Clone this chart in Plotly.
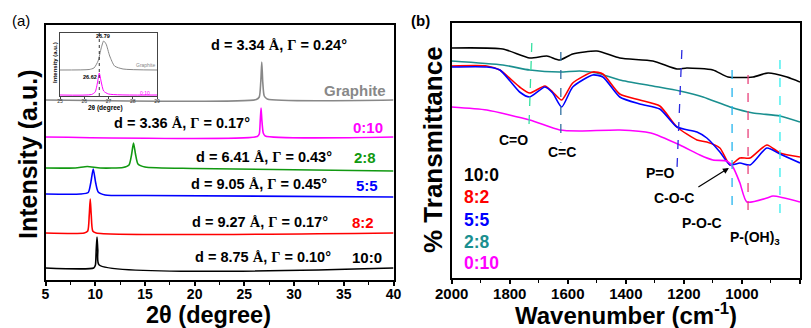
import plotly.graph_objects as go

W, H = 811, 328
FONT = "Liberation Sans, Arial, sans-serif"

# ---------------- Panel (a): XRD ----------------
graphite_x = [5, 26.2, 26.5, 26.65, 26.75, 26.85, 27.0, 27.3, 40]
graphite_y = [180, 180.5, 183, 198, 218, 198, 184, 181, 180]
s010_x = [5, 26.3, 26.5, 26.6, 26.68, 26.76, 26.9, 27.1, 40]
s010_y = [143, 143.5, 146, 160, 172, 160, 147, 144, 143]
s28_x = [5, 8, 9.2, 10.5, 12.8, 13.4, 13.65, 13.85, 14.05, 14.3, 15, 20, 40]
s28_y = [112, 112, 113.5, 112, 112.5, 115, 125, 137, 126, 116, 113, 111.5, 109]
s55_x = [5, 8.5, 9.3, 9.55, 9.8, 10.05, 10.3, 11, 15, 40]
s55_y = [86, 86, 87.5, 97, 111, 97, 88, 85, 84.5, 83]
s82_x = [5, 8.9, 9.25, 9.4, 9.5, 9.6, 9.75, 10.1, 40]
s82_y = [47, 47, 49, 65, 81, 65, 49, 47, 47]
s100_x = [5, 9.85, 10.02, 10.1, 10.18, 10.26, 10.4, 40]
s100_y = [12, 12, 15, 30, 43, 30, 15, 12]

# inset (zoom of graphite and 0:10)
ins_g_x = [25, 26.2, 26.4, 26.57, 26.7, 26.8, 26.9, 27.05, 27.25, 27.6, 29]
ins_g_y = [26, 26.5, 28, 35, 48, 55, 52, 40, 30, 27, 26]
ins_m_x = [25, 26.3, 26.45, 26.55, 26.62, 26.7, 26.8, 27.0, 29]
ins_m_y = [1, 1.5, 4, 14, 23, 14, 5, 2, 1]

# ---------------- Panel (b): FTIR ----------------
ir100_x = [2000, 1824, 1731, 1672, 1628, 1583, 1500, 1421, 1307, 1224, 1190, 1100, 1048, 962, 910, 845, 800]
ir100_y = [229, 228, 219, 221, 217, 223, 226, 219, 216, 208, 209, 207, 200, 200, 204, 200, 195]
ir28_x = [2000, 1824, 1731, 1628, 1559, 1500, 1421, 1307, 1214, 1134, 1041, 962, 869, 800]
ir28_y = [216, 212, 207, 205, 206, 204, 197, 191, 186, 180, 170, 164, 161, 155]
ir_rb_x = [2000, 1879, 1834, 1766, 1731, 1679, 1652, 1621, 1583, 1514, 1479, 1421, 1352, 1283,
           1224, 1155, 1121, 1076, 1041, 1007, 972, 914, 869, 800]
ir82_y = [211, 211, 207, 190, 184, 191, 185, 177, 194, 205, 203, 183, 177, 171,
          150, 137, 135, 129, 112, 119, 119, 132, 124, 120]
ir55_y = [210, 210, 207, 185, 180, 190, 184, 170, 190, 202, 200, 180, 173, 168,
          150, 145, 139, 125, 112, 114, 112, 129, 123, 114]
ir010_x = [2000, 1879, 1731, 1628, 1559, 1421, 1314, 1214, 1145, 1100, 1052, 1031, 1007, 983, 914, 893, 800]
ir010_y = [170, 167, 157, 147, 146, 147, 144, 132, 122, 117, 116, 110, 94, 75, 79, 81, 75]

# band markers: wavenumber at top/bottom, y top/bottom, colour
bands_w_top = [1724, 1624, 1207, 1034, 979, 869]
bands_w_bot = [1734, 1624, 1224, 1034, 979, 869]
bands_y_top = [234, 225, 227, 207, 202, 217]
bands_y_bot = [149, 134, 107, 64, 67, 57]
bands_col = ["#33e0a0", "#2f6f9f", "#2a2ae0", "#22b4ee", "#e8407a", "#33eeee"]

fig = go.Figure()

def sc(x, y, color, xa="x", ya="y", w=1.6):
    fig.add_trace(go.Scatter(x=x, y=y, mode="lines", xaxis=xa, yaxis=ya,
                             line=dict(color=color, width=w, shape="spline", smoothing=0.6),
                             showlegend=False, hoverinfo="skip"))

sc(graphite_x, graphite_y, "#888888")
sc(s010_x, s010_y, "#ff00ff")
sc(s28_x, s28_y, "#119911")
sc(s55_x, s55_y, "#0000ff")
sc(s82_x, s82_y, "#ff0000")
sc(s100_x, s100_y, "#000000")

sc(ins_g_x, ins_g_y, "#888888", "x3", "y3", 1)
sc(ins_m_x, ins_m_y, "#ff00ff", "x3", "y3", 1)
fig.add_trace(go.Scatter(x=[26.62, 26.62], y=[0, 63], mode="lines", xaxis="x3", yaxis="y3",
                         line=dict(color="#000", width=0.8, dash="dot"), showlegend=False))

sc(ir100_x, ir100_y, "#000000", "x2", "y2")
sc(ir28_x, ir28_y, "#1a8f8f", "x2", "y2")
sc(ir_rb_x, ir82_y, "#ff0000", "x2", "y2")
sc(ir_rb_x, ir55_y, "#0000ff", "x2", "y2")
sc(ir010_x, ir010_y, "#ff00ff", "x2", "y2")

for wt, wb, yt, yb, c in zip(bands_w_top, bands_w_bot, bands_y_top, bands_y_bot, bands_col):
    fig.add_trace(go.Scatter(x=[wt, wb], y=[yt, yb], mode="lines", xaxis="x2", yaxis="y2",
                             line=dict(color=c, width=1.3, dash="dash"), showlegend=False))

def dom_x(a, b):
    return [a / W, b / W]

def dom_y(top, bot):
    return [1 - bot / H, 1 - top / H]

axline = dict(showline=True, mirror=True, linecolor="black", linewidth=2, showgrid=False,
              zeroline=False, automargin=False)

fig.update_layout(
    width=W, height=H, margin=dict(l=0, r=0, t=0, b=0, autoexpand=False),
    paper_bgcolor="white", plot_bgcolor="white",
    font=dict(family=FONT, color="black"),
    xaxis=dict(domain=dom_x(45.5, 393.5), range=[5, 40], tickvals=[5, 10, 15, 20, 25, 30, 35, 40],
               ticks="outside", ticklen=4, tickwidth=1.5, tickcolor="black", ticklabelstandoff=-4,
               minor=dict(dtick=2.5, ticks="outside", ticklen=3, tickwidth=1.2, tickcolor="black"),
               tickfont=dict(size=14, weight="bold", family=FONT), anchor="y", **axline),
    yaxis=dict(domain=dom_y(25, 280), range=[0, 255], showticklabels=False, ticks="", anchor="x", **axline),
    xaxis2=dict(domain=dom_x(451.7, 800), range=[2000, 800], tickvals=[2000, 1800, 1600, 1400, 1200, 1000, 800],
                ticks="outside", ticklen=4, tickwidth=1.5, tickcolor="black", ticklabelstandoff=-3,
                minor=dict(dtick=100, ticks="outside", ticklen=3, tickwidth=1.2, tickcolor="black"),
                tickfont=dict(size=15, weight="bold", family=FONT), anchor="y2", **axline),
    yaxis2=dict(domain=dom_y(23, 278), range=[-1, 254], showticklabels=False, ticks="", anchor="x2", **axline),
    xaxis3=dict(domain=dom_x(60, 157), range=[25, 29], tickvals=[25, 26, 27, 28, 29],
                ticks="outside", ticklen=2, tickwidth=0.8, tickcolor="#444", ticklabelstandoff=-2,
                tickfont=dict(size=5, family=FONT, color="#333"), anchor="y3",
                showline=True, mirror=True, linecolor="#444", linewidth=1, showgrid=False,
                zeroline=False, automargin=False),
    yaxis3=dict(domain=dom_y(33, 96), range=[0, 63], showticklabels=False, ticks="", anchor="x3",
                showline=True, mirror=True, linecolor="#444", linewidth=1, showgrid=False,
                zeroline=False, automargin=False),
)

def txt(s, px, py, size, color="black", bold=True, angle=0, xanchor="center"):
    fig.add_annotation(text=("<b>%s</b>" % s) if bold else s, x=px / W, y=1 - py / H,
                       xref="paper", yref="paper", showarrow=False, xanchor=xanchor, yanchor="middle",
                       textangle=angle, font=dict(size=size, color=color, family=FONT))

SER = "<span style='font-family:Liberation Serif'>%s</span>"
A = SER % "Å"
G = SER % "Γ"

# panel (a) text
txt("(a)", 21, 21, 15, bold=False)
txt("d = 3.34 %s, %s = 0.24°" % (A, G), 279, 45, 14.5)
txt("Graphite", 388, 90, 15, "#888888", xanchor="right")
txt("d = 3.36 %s, %s = 0.17°" % (A, G), 182, 123, 14.5)
txt("0:10", 385, 127, 15, "#ff00ff", xanchor="right")
txt("d = 6.41 %s, %s = 0.43°" % (A, G), 264, 157, 14.5)
txt("2:8", 365, 157, 15, "#119911")
txt("d = 9.05 %s, %s = 0.45°" % (A, G), 259, 184, 14.5)
txt("5:5", 367, 186, 15, "#0000ff")
txt("d = 9.27 %s, %s = 0.17°" % (A, G), 260, 222, 14.5)
txt("8:2", 363, 222, 15, "#ff0000")
txt("d = 8.75 %s, %s = 0.10°" % (A, G), 263, 257, 14.5)
txt("10:0", 367, 257, 15)
txt("Intensity (a.u.)", 28, 155, 25, angle=-90)
txt("2θ (degree)", 208, 315, 23.5)

# inset text
txt("26.79", 103, 36, 5.5)
txt("26.62", 90, 77, 5.5)
txt("Graphite", 145, 65, 5, "#888888", bold=False)
txt("0:10", 145, 93, 5, "#ff00ff", bold=False)
txt("Intensity (a.u.)", 55, 63, 6, angle=-90)
txt("2θ (degree)", 105, 108, 6.5)

# panel (b) text
txt("(b)", 420, 21, 15)
txt("% Transmittance", 433, 150, 26, angle=-90)
txt("Wavenumber (cm<sup>-1</sup>)", 626, 314, 24)
for s, py, c in [("10:0", 175, "#000000"), ("8:2", 197, "#ff0000"), ("5:5", 220, "#0000ff"),
                 ("2:8", 242, "#1a8f8f"), ("0:10", 263, "#ff00ff")]:
    txt(s, 462, py, 17.5, c, xanchor="left")
txt("C=O", 513, 140, 14)
txt("C=C", 562, 152, 14)
txt("P=O", 660, 173, 14)
txt("C-O-C", 674, 198, 14)
txt("P-O-C", 702, 223, 14)
txt("P-(OH)<sub>3</sub>", 755, 238, 14)

fig.add_annotation(x=1045, y=109, xref="x2", yref="y2", ax=-32, ay=20, axref="pixel", ayref="pixel",
                   text="", showarrow=True, arrowhead=2, arrowsize=1, arrowwidth=1.2, arrowcolor="black")

fig.write_html("out.html")
